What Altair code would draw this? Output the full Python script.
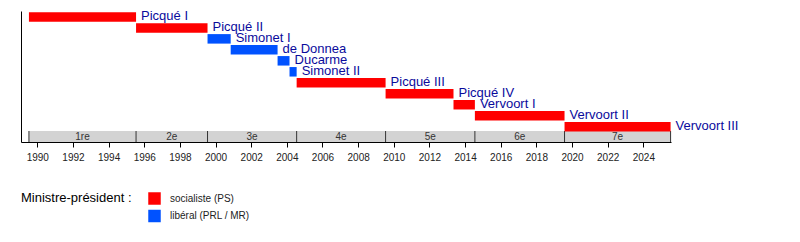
import altair as alt
import pandas as pd

# --- data ---
names = ["Picqué I", "Picqué II", "Simonet I", "de Donnea", "Ducarme", "Simonet II",
         "Picqué III", "Picqué IV", "Vervoort I", "Vervoort II", "Vervoort III"]
starts = [1989.53, 1995.54, 1999.55, 2000.85, 2003.48, 2004.15,
          2004.55, 2009.54, 2013.35, 2014.55, 2019.58]
ends = [1995.54, 1999.55, 2000.85, 2003.48, 2004.15, 2004.55,
        2009.54, 2013.35, 2014.55, 2019.58, 2025.53]
parties = ["socialiste (PS)", "socialiste (PS)", "libéral (PRL / MR)", "libéral (PRL / MR)",
           "libéral (PRL / MR)", "libéral (PRL / MR)", "socialiste (PS)", "socialiste (PS)",
           "socialiste (PS)", "socialiste (PS)", "socialiste (PS)"]

leg_labels = ["1re", "2e", "3e", "4e", "5e", "6e", "7e"]
leg_bounds = [1989.53, 1995.54, 1999.55, 2004.55, 2009.54, 2014.55, 2019.58, 2025.53]

tick_years = list(range(1990, 2025, 2))

party_domain = ["socialiste (PS)", "libéral (PRL / MR)"]
party_colors = ["#ff0000", "#0052ff"]

# --- tables ---
gov = pd.DataFrame({"name": names, "start": starts, "end": ends,
                    "party": parties, "row": list(range(len(names)))})
legis = pd.DataFrame({"label": leg_labels, "start": leg_bounds[:-1], "end": leg_bounds[1:]})
legis["mid"] = (legis["start"] + legis["end"]) / 2
bounds = pd.DataFrame({"b": leg_bounds})

W, H = 650, 131
xscale = alt.Scale(domain=[1989.085, 2025.553], nice=False, zero=False, padding=0)
yscale = alt.Scale(domain=[-0.537, 11.394], reverse=True, nice=False, zero=False, padding=0)

xaxis = alt.Axis(values=tick_years, format="d", title=None, grid=False,
                 tickSize=5, labelFontSize=10, labelColor="#222", labelPadding=5,
                 labelOverlap=False, domainColor="#000", tickColor="#000",
                 labelFont="Liberation Sans")
yaxis = alt.Axis(labels=False, ticks=False, grid=False, title=None, domainColor="#000")

bars = alt.Chart(gov).mark_bar(size=9.5).encode(
    x=alt.X("start:Q", scale=xscale, axis=xaxis),
    x2="end:Q",
    y=alt.Y("row:Q", scale=yscale, axis=yaxis),
    color=alt.Color("party:N",
                    scale=alt.Scale(domain=party_domain, range=party_colors),
                    legend=alt.Legend(
                        title="Ministre-président :", orient="none",
                        legendX=0, legendY=181, direction="vertical",
                        titleOrient="left", titleAnchor="start", titleBaseline="top",
                        titleFontSize=13, titleFontWeight="normal",
                        titleColor="#000", titlePadding=16, titleFont="Liberation Sans",
                        labelFontSize=10, labelColor="#222", labelOffset=9,
                        labelFont="Liberation Sans",
                        symbolType="square", symbolSize=156, symbolStrokeWidth=0,
                        rowPadding=4.5, padding=0)),
)

labels = alt.Chart(gov).mark_text(
    align="left", baseline="alphabetic", dx=5, dy=3.5, fontSize=13,
    color="#0a0a9c", font="Liberation Sans"
).encode(
    x=alt.X("end:Q", scale=xscale, axis=xaxis),
    y=alt.Y("row:Q", scale=yscale, axis=yaxis),
    text="name:N",
)

band = alt.Chart(legis).mark_rect(color="#d3d3d3").encode(
    x=alt.X("start:Q", scale=xscale, axis=xaxis),
    x2="end:Q",
    y=alt.value(H - 11),
    y2=alt.value(H),
)

dividers = alt.Chart(bounds).mark_rule(color="#333", strokeWidth=1).encode(
    x=alt.X("b:Q", scale=xscale, axis=xaxis),
    y=alt.value(H - 11),
    y2=alt.value(H),
)

band_text = alt.Chart(legis).mark_text(
    fontSize=10, color="#333", baseline="middle", font="Liberation Sans"
).encode(
    x=alt.X("mid:Q", scale=xscale, axis=xaxis),
    y=alt.value(H - 5.5),
    text="label:N",
)

chart = alt.layer(band, dividers, band_text, bars, labels).properties(
    width=W, height=H,
    autosize=alt.AutoSizeParams(type="none"),
    padding={"left": 21, "top": 11, "right": 129, "bottom": 100},
    background="white",
).configure_view(strokeWidth=0, stroke=None)

chart.save("out.html", embed_options={"renderer": "svg", "actions": False})
